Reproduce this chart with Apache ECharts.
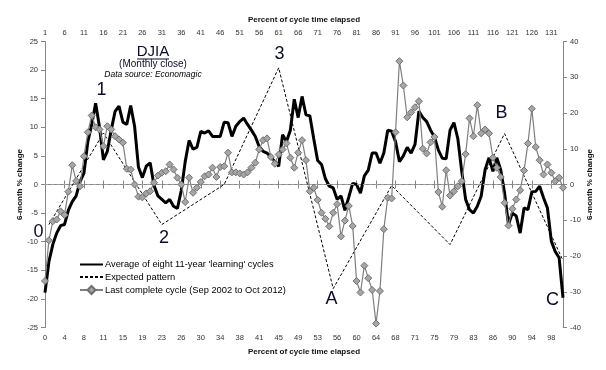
<!DOCTYPE html>
<html><head><meta charset="utf-8">
<script src="https://cdn.jsdelivr.net/npm/echarts@6/dist/echarts.min.js"></script>
<style>html,body{margin:0;padding:0;background:#fff}#c{width:606px;height:370px}</style>
</head><body><div id="c"></div>
<script>
// Month index within the 11-year cycle (category axis)
const months = Array.from({length: 134}, (_, i) => i + 1);
// Shown tick labels (every 5th category)
const bottomTickLabels = [0,4,8,11,15,19,23,26,30,34,38,41,45,49,53,56,60,64,68,71,75,79,83,86,90,94,98];
const topTickLabels = [1,6,11,16,21,26,31,36,41,46,51,56,61,66,71,76,81,86,91,96,101,106,111,116,121,126,131];

// Average of eight 11-year 'learning' cycles (left axis, %)
const avgCycle = [
 -18.9,-13.5,-10.5,-8.5,-7.2,-7.0,-4.5,-3.0,-2.0,0.5,
 2.0,7.5,10.5,14.2,10.0,4.3,5.8,9.5,12.8,13.7,
 10.9,10.5,13.8,10.2,3.0,1.2,3.2,3.8,-0.2,-2.0,
 -2.6,-3.2,-2.6,-3.8,-4.2,-1.0,4.0,7.7,6.2,6.5,
 9.3,9.0,9.4,8.4,8.4,8.4,10.9,10.8,8.4,10.2,
 11.0,11.6,10.5,9.5,8.4,6.6,5.8,5.5,4.8,4.0,
 3.2,8.7,7.5,9.5,14.9,11.7,15.4,12.2,12.0,8.0,
 4.2,3.5,1.0,-0.3,-0.6,-2.6,-2.0,-4.5,-2.2,0.2,
 0.0,-1.5,1.5,2.5,5.5,5.5,3.7,5.5,9.5,9.3,
 7.5,4.0,5.0,6.5,5.5,7.0,12.8,11.7,11.0,9.5,
 8.3,6.0,4.6,4.5,9.5,10.8,8.0,2.3,-2.6,-4.4,
 -5.0,-3.8,-2.0,2.6,4.7,2.3,4.7,2.6,-1.5,-7.0,
 -5.0,-5.5,-8.5,-4.1,-4.4,-1.3,-1.2,-0.3,-2.3,-4.1,
 -9.9,-11.7,-12.8,-19.8
];

// Expected pattern: turning points (month index, left-axis value)
const expectedMonths = [2, 16, 31, 47, 61, 75, 90, 105, 119, 134];
const expectedValues = [-7.0, 9.0, -7.0, 0.0, 20.4, -18.2, -0.2, -10.5, 8.9, -13.3];

// Last complete cycle, Sep 2002 to Oct 2012 (right axis, %)
const lastCycle = [
 -27,-15.6,-10.3,-9.8,-7.5,-8.5,-2.0,5.4,1.0,-0.5,
 7.9,14.6,19.3,16.0,15.4,10.7,16.3,15.4,13.5,12.6,
 11.7,4.4,4.2,0.0,-3.4,-3.6,-2.5,-1.9,0.5,2.5,
 3.3,3.7,5.6,4.2,1.9,0.0,-4.9,1.9,-2.3,-0.9,
 0.7,2.3,2.8,4.7,2.1,4.9,5.1,8.9,3.4,3.4,
 3.1,2.8,3.4,4.7,6.1,9.8,12.4,12.9,7.7,5.8,
 8.4,9.8,11.5,7.5,4.7,8.9,12.4,6.8,-1.9,-0.9,
 -4.3,-7.9,-9.6,-11.7,-7.9,-5.5,-14.5,-10.1,-6.0,-11.6,
 -27,-30.2,-22.7,-26.2,-29.5,-38.9,-29.8,-12.5,-3.7,-3.9,
 14.6,34.5,27.7,18.8,20.2,21.6,23.3,10.0,8.7,11.8,
 13.3,-2.1,-6.2,4.0,-3.1,-1.9,-0.5,0.9,8.5,18.5,
 13.5,22.2,14.3,15.4,14.3,7.5,4.7,2.1,-5.1,-11.5,
 -6.8,-4.2,-1.6,3.9,11.5,21.2,10.5,6.8,2.8,5.6,
 3.3,0.9,1.9,-0.9
];

const expectedSeries = months.map(m => {
  const k = expectedMonths.indexOf(m);
  return k >= 0 ? expectedValues[k] : null;
});

const FONT = 'Liberation Sans, Arial, sans-serif';
const axisCol = '#868686';
const lblStyle = {fontSize: 7.5, color: '#333', fontFamily: FONT};
const nameStyle = {fontSize: 8, color: '#111', fontFamily: FONT, fontWeight: 'bold'};
const annCol = '#0b0b2a';
const S1 = "Average of eight 11-year 'learning' cycles";
const S2 = 'Expected pattern';
const S3 = 'Last complete cycle (Sep 2002 to Oct 2012)';

const chart = echarts.init(document.getElementById('c'), null, {renderer: 'canvas'});
chart.setOption({
  animation: false,
  backgroundColor: '#fff',
  grid: {left: 45, right: 43, top: 41.5, bottom: 42.5, containLabel: false},
  legend: {
    orient: 'vertical', left: 79, top: 260, itemWidth: 23, itemHeight: 10, itemGap: 3.5, padding: 0,
    textStyle: {fontSize: 9.3, color: '#000', fontFamily: FONT, padding: [0, 0, 0, -3]},
    data: [
      {name: S1, itemStyle: {opacity: 0}},
      {name: S2, itemStyle: {opacity: 0}},
      {name: S3}
    ]
  },
  xAxis: [
    {type: 'category', data: months, boundaryGap: false, position: 'bottom',
     axisLine: {lineStyle: {color: axisCol}}, axisTick: {interval: 4, length: 4, lineStyle: {color: axisCol}},
     axisLabel: Object.assign({interval: 4, margin: 6, formatter: (v, i) => String(bottomTickLabels[i / 5])}, lblStyle),
     splitLine: {show: false},
     name: 'Percent of cycle time elapsed', nameLocation: 'middle', nameGap: 20, nameTextStyle: nameStyle},
    {type: 'category', data: months, boundaryGap: false, position: 'top',
     axisLine: {lineStyle: {color: axisCol}}, axisTick: {interval: 4, length: 4, lineStyle: {color: axisCol}},
     axisLabel: Object.assign({interval: 4, margin: 5, formatter: (v, i) => String(topTickLabels[i / 5])}, lblStyle),
     splitLine: {show: false},
     name: 'Percent of cycle time elapsed', nameLocation: 'middle', nameGap: 16.5, nameTextStyle: nameStyle}
  ],
  yAxis: [
    {type: 'value', min: -25, max: 25, interval: 5, position: 'left',
     axisLine: {show: true, lineStyle: {color: axisCol}}, axisTick: {show: true, length: 4, lineStyle: {color: axisCol}},
     axisLabel: Object.assign({margin: 7}, lblStyle), splitLine: {show: false},
     name: '6-month % change', nameLocation: 'middle', nameRotate: 90, nameGap: 25, nameMoveOverlap: false,
     nameTextStyle: Object.assign({verticalAlign: 'middle'}, nameStyle)},
    {type: 'value', min: -40, max: 40, interval: 10, position: 'right',
     axisLine: {show: true, lineStyle: {color: axisCol}}, axisTick: {show: true, length: 4, lineStyle: {color: axisCol}},
     axisLabel: Object.assign({margin: 7}, lblStyle), splitLine: {show: false},
     name: '6-month % change', nameLocation: 'middle', nameRotate: 90, nameGap: 27, nameMoveOverlap: false,
     nameTextStyle: Object.assign({verticalAlign: 'middle'}, nameStyle)}
  ],
  series: [
    {name: S1, type: 'line', xAxisIndex: 0, yAxisIndex: 0,
     data: avgCycle, symbol: 'none', z: 3,
     lineStyle: {color: '#000', width: 3}, itemStyle: {color: '#000'},
     markLine: {silent: true, symbol: ['none', 'none'], label: {show: false},
       lineStyle: {color: '#a0a0a0', type: [3, 3], width: 1}, data: [{yAxis: 0}]}},
    {name: S2, type: 'line', xAxisIndex: 0, yAxisIndex: 0,
     data: expectedSeries, connectNulls: true, symbol: 'none', z: 4,
     lineStyle: {color: '#000', width: 1, type: [3, 2]}, itemStyle: {color: '#000'}},
    {name: S3, type: 'line', xAxisIndex: 0, yAxisIndex: 1,
     data: lastCycle, symbol: 'diamond', symbolSize: 7, showSymbol: true, showAllSymbol: true, z: 5,
     lineStyle: {color: '#7f7f7f', width: 1.2},
     itemStyle: {color: '#a6a6a6', borderColor: '#6f6f6f', borderWidth: 1}}
  ],
  graphic: [
    {type: 'text', x: 153, y: 52, style: {text: 'DJIA', fontSize: 15, fontFamily: FONT, fill: annCol, align: 'center', verticalAlign: 'middle'}},
    {type: 'line', shape: {x1: 137, y1: 59, x2: 169, y2: 59}, style: {stroke: annCol, lineWidth: 1}},
    {type: 'text', x: 153, y: 64.5, style: {text: '(Monthly close)', fontSize: 10, fontFamily: FONT, fill: annCol, align: 'center', verticalAlign: 'middle'}},
    {type: 'text', x: 153, y: 75, style: {text: 'Data source: Economagic', fontSize: 8.5, fontStyle: 'italic', fontFamily: FONT, fill: '#000', align: 'center', verticalAlign: 'middle'}},
    {type: 'text', x: 101.5, y: 90, style: {text: '1', fontSize: 18, fontFamily: FONT, fill: annCol, align: 'center', verticalAlign: 'middle'}},
    {type: 'text', x: 164, y: 238, style: {text: '2', fontSize: 18, fontFamily: FONT, fill: annCol, align: 'center', verticalAlign: 'middle'}},
    {type: 'text', x: 279.5, y: 54.5, style: {text: '3', fontSize: 18, fontFamily: FONT, fill: annCol, align: 'center', verticalAlign: 'middle'}},
    {type: 'text', x: 38.5, y: 232, style: {text: '0', fontSize: 18, fontFamily: FONT, fill: annCol, align: 'center', verticalAlign: 'middle'}},
    {type: 'text', x: 331.5, y: 299, style: {text: 'A', fontSize: 18, fontFamily: FONT, fill: annCol, align: 'center', verticalAlign: 'middle'}},
    {type: 'text', x: 501.5, y: 113, style: {text: 'B', fontSize: 18, fontFamily: FONT, fill: annCol, align: 'center', verticalAlign: 'middle'}},
    {type: 'text', x: 552.5, y: 300, style: {text: 'C', fontSize: 18, fontFamily: FONT, fill: annCol, align: 'center', verticalAlign: 'middle'}}
  ]
});
</script></body></html>
